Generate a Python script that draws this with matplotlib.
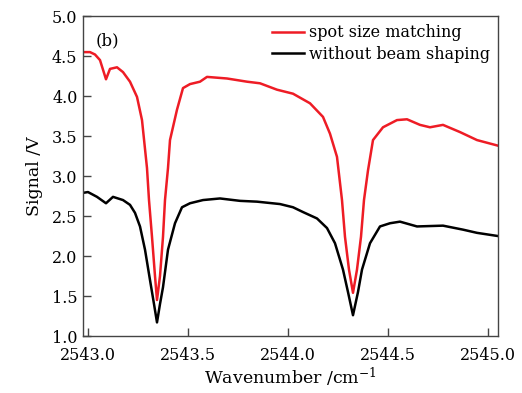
import matplotlib
matplotlib.use('Agg')
import matplotlib.pyplot as plt

plt.rcParams['font.family'] = ['DejaVu Serif']
plt.rcParams['mathtext.fontset'] = 'dejavuserif'

# datos
wn_red = [2542.975, 2543.010, 2543.035, 2543.060, 2543.090, 2543.110, 2543.145, 2543.175,
          2543.210, 2543.245, 2543.270, 2543.295, 2543.305, 2543.320, 2543.335, 2543.345,
          2543.360, 2543.375, 2543.385, 2543.400, 2543.410, 2543.445, 2543.475, 2543.510,
          2543.560, 2543.595, 2543.695, 2543.795, 2543.860, 2543.945, 2544.025, 2544.110,
          2544.175, 2544.210, 2544.245, 2544.270, 2544.285, 2544.305, 2544.325, 2544.345,
          2544.365, 2544.380, 2544.400, 2544.425, 2544.475, 2544.545, 2544.595, 2544.660,
          2544.710, 2544.775, 2544.860, 2544.945, 2545.050]
sig_red = [4.55, 4.55, 4.52, 4.45, 4.21, 4.34, 4.36, 4.30,
           4.18, 3.99, 3.70, 3.10, 2.70, 2.24, 1.75, 1.45,
           1.75, 2.24, 2.70, 3.10, 3.45, 3.83, 4.10, 4.15,
           4.18, 4.24, 4.22, 4.18, 4.16, 4.08, 4.03, 3.91,
           3.74, 3.53, 3.24, 2.70, 2.24, 1.83, 1.54, 1.83,
           2.24, 2.70, 3.07, 3.45, 3.61, 3.70, 3.71, 3.64,
           3.61, 3.64, 3.55, 3.45, 3.38]

wn_black = [2542.975, 2543.000, 2543.045, 2543.090, 2543.125, 2543.175, 2543.210, 2543.235,
            2543.260, 2543.285, 2543.310, 2543.330, 2543.345, 2543.360, 2543.375, 2543.400,
            2543.435, 2543.470, 2543.510, 2543.575, 2543.660, 2543.760, 2543.845, 2543.960,
            2544.025, 2544.075, 2544.145, 2544.195, 2544.235, 2544.275, 2544.300, 2544.325,
            2544.350, 2544.370, 2544.410, 2544.460, 2544.510, 2544.560, 2544.645, 2544.775,
            2544.875, 2544.945, 2545.050]
sig_black = [2.79, 2.80, 2.74, 2.66, 2.74, 2.70, 2.64, 2.54,
             2.37, 2.08, 1.70, 1.40, 1.17, 1.40, 1.61, 2.08,
             2.41, 2.61, 2.66, 2.70, 2.72, 2.69, 2.68, 2.65,
             2.61, 2.55, 2.47, 2.35, 2.16, 1.83, 1.55, 1.26,
             1.55, 1.83, 2.16, 2.37, 2.41, 2.43, 2.37, 2.38,
             2.33, 2.29, 2.25]

fig = plt.figure(figsize=(5.22, 3.93), dpi=100)
ax = fig.add_axes([0.159, 0.145, 0.795, 0.814])

ax.plot(wn_red, sig_red, color='#ee1c25', lw=1.8, label='spot size matching')
ax.plot(wn_black, sig_black, color='black', lw=1.8, label='without beam shaping')

ax.set_xlim(2542.975, 2545.05)
ax.set_ylim(1.0, 5.0)
ax.set_xticks([2543.0, 2543.5, 2544.0, 2544.5, 2545.0])
ax.set_yticks([1.0, 1.5, 2.0, 2.5, 3.0, 3.5, 4.0, 4.5, 5.0])
ax.xaxis.set_major_formatter(matplotlib.ticker.FormatStrFormatter('%.1f'))
ax.yaxis.set_major_formatter(matplotlib.ticker.FormatStrFormatter('%.1f'))
ax.tick_params(direction='in', length=6, width=1, labelsize=11.5, color='#444444')
ax.tick_params(axis='x', pad=8)
ax.tick_params(axis='y', pad=4)

for s in ax.spines.values():
    s.set_color('#444444')
    s.set_linewidth(1)

ax.set_xlabel('Wavenumber /cm$^{-1}$', fontsize=12.5, labelpad=1)
ax.set_ylabel('Signal /V', fontsize=12.5, labelpad=6)
ax.text(0.03, 0.95, '(b)', transform=ax.transAxes, fontsize=12, va='top', ha='left')

ax.legend(loc='upper right', frameon=False, fontsize=11.5, handlelength=2.0,
          handletextpad=0.3, labelspacing=0.3, borderaxespad=0.1)

fig.savefig('out.png', dpi=100)
